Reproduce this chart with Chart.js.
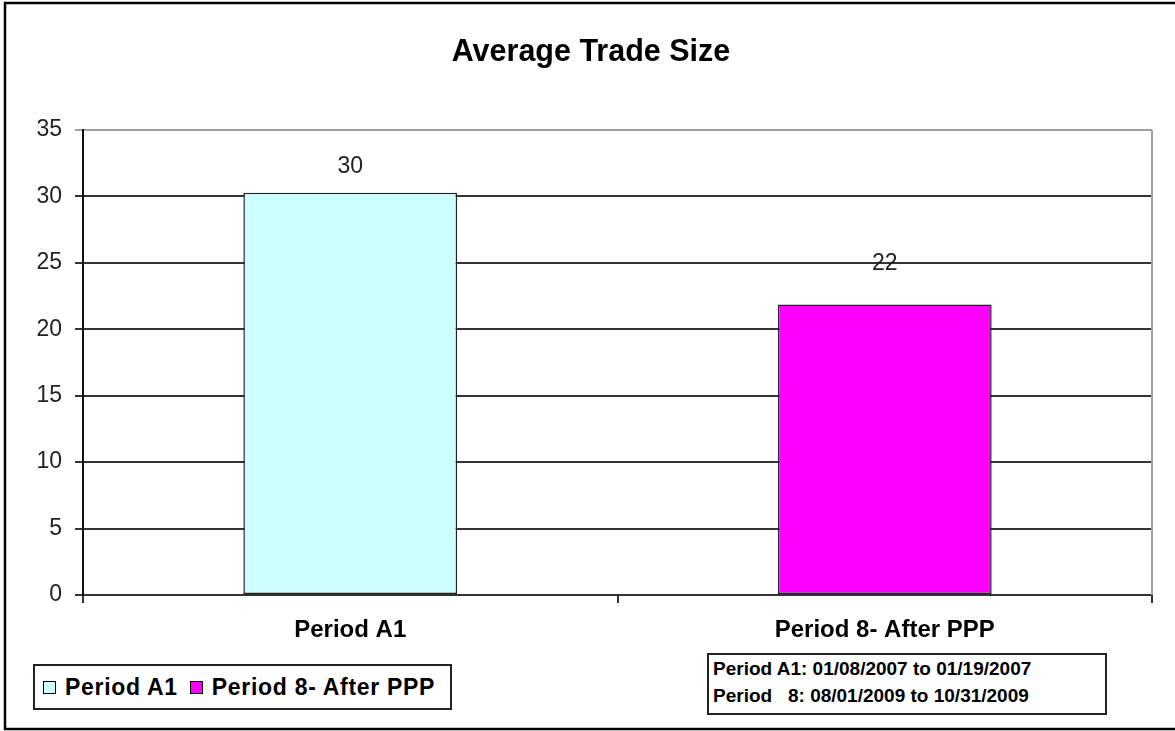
<!DOCTYPE html>
<html>
<head>
<meta charset="utf-8">
<script src="https://cdn.jsdelivr.net/npm/chart.js@4/dist/chart.umd.min.js"></script>
<style>
  html, body { margin: 0; padding: 0; background: #fff; }
  #wrap { position: relative; width: 1175px; height: 731px; overflow: hidden; font-family: 'Liberation Sans', Arial, sans-serif; }
  #c { position: absolute; left: 0; top: 0; }
  .box { position: absolute; border: 2px solid #222; background: #fff; box-sizing: border-box; color: #000; font-weight: bold; }
  #legend { left: 33px; top: 664px; width: 419px; height: 46px; font-size: 23px; letter-spacing: 0.7px; display: flex; align-items: center; padding-left: 8px; white-space: pre; }
  #legend .sw { display: inline-block; width: 11px; height: 11px; border: 1px solid #000; margin-right: 9px; }
  #legend .it { display: inline-flex; align-items: center; margin-right: 12px; }
  #note { left: 707px; top: 653px; width: 400px; height: 62px; font-size: 19px; line-height: 27px; padding: 0 0 0 4px; white-space: pre; }
</style>
</head>
<body>
<div id="wrap">
  <canvas id="c" width="1175" height="731"></canvas>
  <div id="legend" class="box"></div>
  <div id="note" class="box"></div>
</div>
<script>
// Average Trade Size: dois periodos
const CATEGORIAS = ['Period A1', 'Period 8- After PPP'];
const VALORES = [30.27, 21.86];
const CORES = ['#CCFFFF', '#FF00FF'];
const Y_TICKS = [0, 5, 10, 15, 20, 25, 30, 35];
const NOTAS = ['Period A1: 01/08/2007 to 01/19/2007', 'Period   8: 08/01/2009 to 10/31/2009'];

const FONTE = "'Liberation Sans', Arial, sans-serif";
const LABEL_GAP = [26, 41]; // distancia do rotulo ao topo da barra

// moldura externa + borda direita da area de plotagem
const moldura = {
  id: 'moldura',
  beforeDatasetsDraw(chart) {
    const { ctx, chartArea: a } = chart;
    ctx.save();
    ctx.strokeStyle = '#a0a0a0';
    ctx.lineWidth = 2;
    ctx.beginPath();
    ctx.moveTo(a.right, a.top);
    ctx.lineTo(a.right, a.bottom);
    ctx.stroke();
    ctx.restore();
  },
  afterDraw(chart) {
    const { ctx } = chart;
    ctx.save();
    ctx.strokeStyle = '#000';
    ctx.lineWidth = 2.5;
    ctx.strokeRect(5, 3, chart.width + 20, 726);
    ctx.restore();
  },
};

// rotulos de valor acima das barras
const rotulos = {
  id: 'rotulos',
  afterDatasetsDraw(chart) {
    const { ctx } = chart;
    const meta = chart.getDatasetMeta(0);
    ctx.save();
    ctx.font = `23px ${FONTE}`;
    ctx.fillStyle = '#222';
    ctx.textAlign = 'center';
    ctx.textBaseline = 'middle';
    meta.data.forEach((bar, i) => {
      ctx.fillText(String(Math.round(VALORES[i])), bar.x, bar.y - LABEL_GAP[i]);
    });
    ctx.restore();
  },
};

new Chart(document.getElementById('c'), {
  type: 'bar',
  data: {
    labels: CATEGORIAS,
    datasets: [{
      data: VALORES,
      backgroundColor: CORES,
      borderColor: '#222',
      borderWidth: 1.5,
      borderSkipped: false,
      barPercentage: 0.8,
      categoryPercentage: 0.5,
    }],
  },
  options: {
    responsive: false,
    animation: false,
    layout: { padding: { left: 30, right: 23, top: 0, bottom: 0 } },
    plugins: {
      legend: { display: false },
      tooltip: { enabled: false },
      title: {
        display: true,
        text: 'Average Trade Size',
        color: '#000',
        font: { family: FONTE, size: 30.5, weight: 'bold' },
        padding: { top: 34, bottom: 59.4 },
      },
    },
    scales: {
      x: {
        afterFit: (s) => { s.height = 136; },
        grid: { drawOnChartArea: false, drawTicks: true, tickLength: 8, color: '#333', lineWidth: 2 },
        border: { color: '#333', width: 2 },
        ticks: { color: '#000', padding: 13, maxRotation: 0, font: { family: FONTE, size: 24, weight: 'bold' } },
      },
      y: {
        min: 0,
        max: 35,
        afterFit: (s) => { s.width = 53; },
        afterBuildTicks: (s) => { s.ticks = Y_TICKS.map((v) => ({ value: v })); },
        grid: {
          color: (c) => (c.tick && c.tick.value === 35 ? '#a0a0a0' : '#333'),
          lineWidth: 2,
          tickLength: 8,
        },
        border: { color: '#111', width: 2 },
        ticks: { color: '#222', padding: 13, font: { family: FONTE, size: 23 } },
      },
    },
  },
  plugins: [moldura, rotulos],
});

// legenda e caixa de notas
document.getElementById('legend').innerHTML = CATEGORIAS
  .map((l, i) => `<span class="it"><span class="sw" style="background:${CORES[i]}"></span>${l}</span>`)
  .join('');
document.getElementById('note').innerHTML = NOTAS.map((n) => `<div>${n}</div>`).join('');
</script>
</body>
</html>
